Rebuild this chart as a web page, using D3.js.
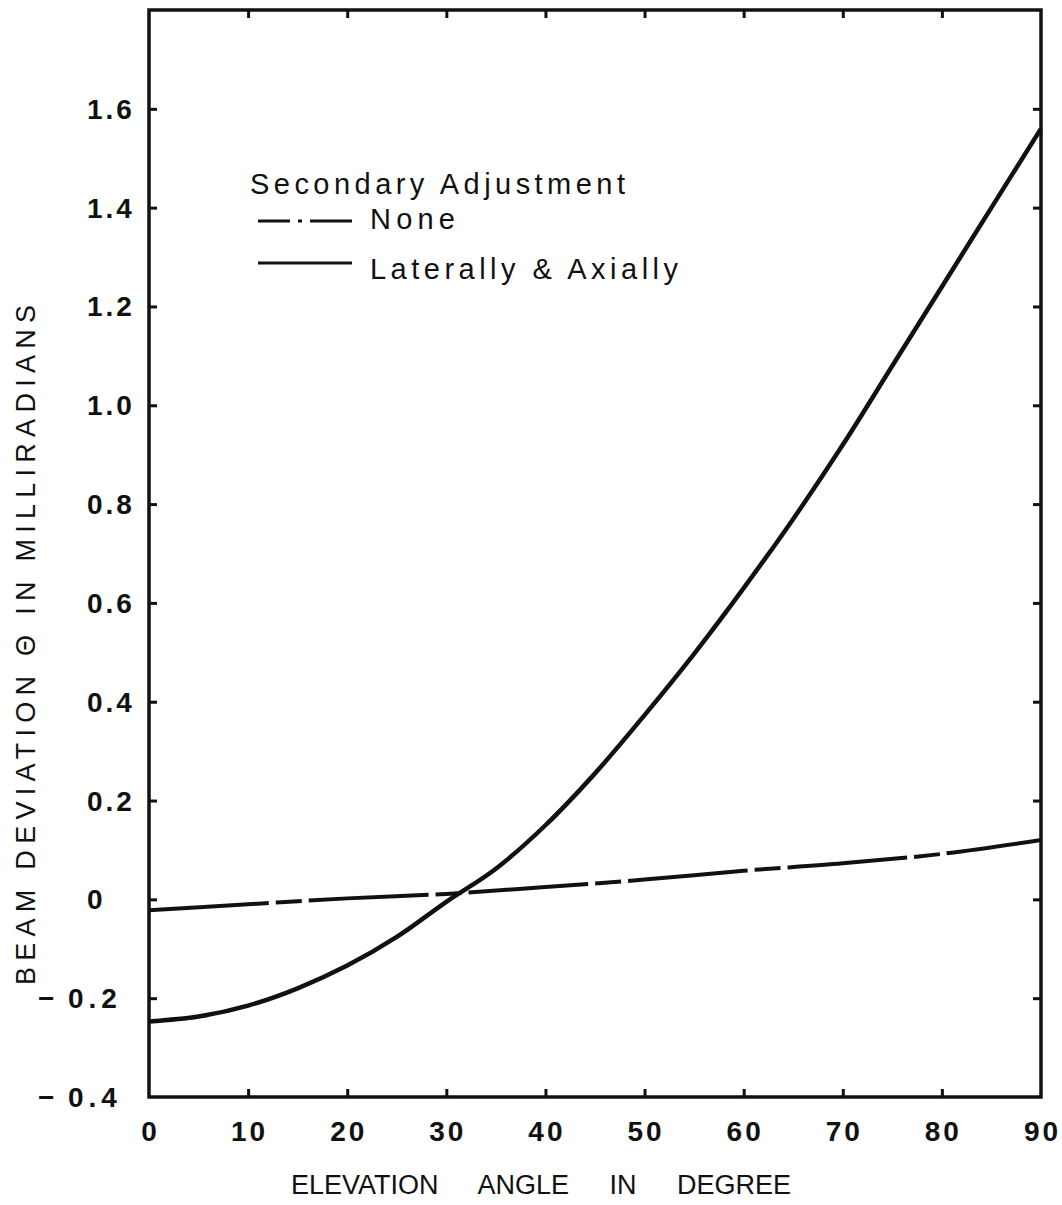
<!DOCTYPE html>
<html>
<head>
<meta charset="utf-8">
<script src="https://cdn.jsdelivr.net/npm/d3@7"></script>
<style>
  body { margin: 0; background: #fff; }
  text { font-family: "Liberation Sans", Arial, sans-serif; fill: #111; }
  .tick-label { font-size: 28px; font-weight: bold; letter-spacing: 3px; }
</style>
</head>
<body>
<svg id="chart" width="1062" height="1205"></svg>
<script>
// elevation angle (deg) and beam deviation (milliradians)
var angles = [0, 5, 10, 15, 20, 25, 30, 35, 40, 45, 50, 55, 60, 65, 70, 75, 80, 85, 90];
var lateralAxial = [-0.247, -0.237, -0.215, -0.180, -0.134, -0.076, -0.005, 0.062, 0.150, 0.255, 0.373, 0.497, 0.630, 0.770, 0.920, 1.080, 1.240, 1.400, 1.560];

var noneAngles = [0, 10, 20, 30, 40, 50, 60, 70, 80, 90];
var noneValues = [-0.022, -0.010, 0.002, 0.011, 0.025, 0.040, 0.058, 0.073, 0.092, 0.120];

var xTicks = [0, 10, 20, 30, 40, 50, 60, 70, 80, 90];
var yTicks = [-0.4, -0.2, 0, 0.2, 0.4, 0.6, 0.8, 1.0, 1.2, 1.4, 1.6];

var svg = d3.select("#chart");

var plotL = 149, plotR = 1041, plotT = 10, plotB = 1097;

var x = d3.scaleLinear().domain([0, 90]).range([plotL, plotR]);
var y = d3.scaleLinear().domain([-0.4, 1.8]).range([plotB, plotT]);

// frame
svg.append("rect")
  .attr("x", plotL).attr("y", plotT)
  .attr("width", plotR - plotL).attr("height", plotB - plotT)
  .attr("fill", "none").attr("stroke", "#111").attr("stroke-width", 3.5);

// inward ticks on all four sides
var innerX = xTicks.filter(function(d) { return d > 0 && d < 90; });
var innerY = yTicks.filter(function(d) { return d > -0.4; });

svg.append("g").attr("transform", "translate(0," + plotB + ")")
  .call(d3.axisBottom(x).tickValues(innerX).tickSizeInner(-8).tickSizeOuter(0).tickFormat(""));
svg.append("g").attr("transform", "translate(0," + plotT + ")")
  .call(d3.axisTop(x).tickValues(innerX).tickSizeInner(-8).tickSizeOuter(0).tickFormat(""));
svg.append("g").attr("transform", "translate(" + plotL + ",0)")
  .call(d3.axisLeft(y).tickValues(innerY).tickSizeInner(-8).tickSizeOuter(0).tickFormat(""));
svg.append("g").attr("transform", "translate(" + plotR + ",0)")
  .call(d3.axisRight(y).tickValues(innerY).tickSizeInner(-8).tickSizeOuter(0).tickFormat(""));

svg.selectAll(".domain").remove();
svg.selectAll(".tick line").attr("stroke", "#111").attr("stroke-width", 3);

// tick labels
svg.selectAll(".xlab")
  .data(xTicks)
  .enter().append("text")
  .attr("class", "tick-label")
  .attr("x", function(d) { return x(d) + 1.5; })
  .attr("y", 1141)
  .attr("text-anchor", "middle")
  .text(function(d) { return d; });

var ylab = svg.selectAll(".ylab")
  .data(yTicks)
  .enter().append("text")
  .attr("class", "tick-label")
  .attr("x", function(d) { return d < 0 ? 38 : 87; })
  .attr("y", function(d) { return y(d) + 10; });

ylab.filter(function(d) { return d < 0; })
  .append("tspan").text("−");
ylab.append("tspan")
  .attr("x", function(d) { return d < 0 ? 68 : 87; })
  .style("letter-spacing", function(d) { return d < 0 ? "5px" : null; })
  .text(function(d) { return d === 0 ? "0" : Math.abs(d).toFixed(1); });

// axis titles
svg.append("text")
  .attr("x", 541).attr("y", 1194)
  .attr("text-anchor", "middle")
  .attr("font-size", 27)
  .style("word-spacing", "33px")
  .text("ELEVATION ANGLE IN DEGREE");

svg.append("text")
  .attr("transform", "translate(35,645) rotate(-90)")
  .attr("text-anchor", "middle")
  .attr("font-size", 27)
  .attr("textLength", 680).attr("lengthAdjust", "spacing")
  .text("BEAM   DEVIATION   Θ   IN   MILLIRADIANS");

// curves
var line = d3.line()
  .x(function(d) { return x(d[0]); })
  .y(function(d) { return y(d[1]); })
  .curve(d3.curveCatmullRom);

svg.append("path")
  .datum(noneAngles.map(function(a, i) { return [a, noneValues[i]]; }))
  .attr("d", line)
  .attr("fill", "none")
  .attr("stroke", "#111")
  .attr("stroke-width", 4)
  .attr("stroke-dasharray", "120,7,26,7");

svg.append("path")
  .datum(angles.map(function(a, i) { return [a, lateralAxial[i]]; }))
  .attr("d", line)
  .attr("fill", "none")
  .attr("stroke", "#111")
  .attr("stroke-width", 4.5);

// legend
var legend = svg.append("g");
legend.append("text")
  .attr("x", 250).attr("y", 194)
  .attr("font-size", 29)
  .attr("textLength", 375).attr("lengthAdjust", "spacing")
  .text("Secondary  Adjustment");

legend.append("line")
  .attr("x1", 258).attr("x2", 352).attr("y1", 221).attr("y2", 221)
  .attr("stroke", "#111").attr("stroke-width", 3)
  .attr("stroke-dasharray", "32,8,4,8,60");
legend.append("text")
  .attr("x", 370).attr("y", 229)
  .attr("font-size", 29)
  .attr("textLength", 85).attr("lengthAdjust", "spacing")
  .text("None");

legend.append("line")
  .attr("x1", 258).attr("x2", 352).attr("y1", 263).attr("y2", 263)
  .attr("stroke", "#111").attr("stroke-width", 3);
legend.append("text")
  .attr("x", 370).attr("y", 279)
  .attr("font-size", 29)
  .attr("textLength", 308).attr("lengthAdjust", "spacing")
  .text("Laterally  &  Axially");
</script>
</body>
</html>
